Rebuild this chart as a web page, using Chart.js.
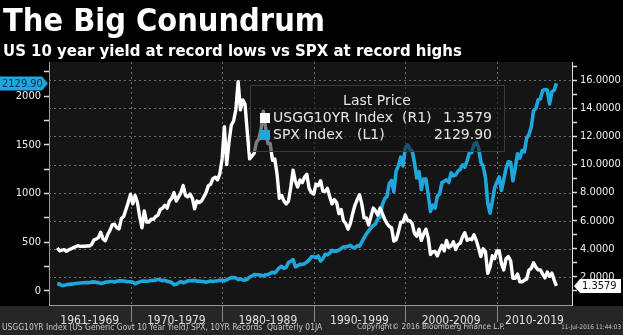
<!DOCTYPE html>
<html><head><meta charset="utf-8">
<script src="https://cdn.jsdelivr.net/npm/chart.js@4/dist/chart.umd.min.js"></script>
<style>
html,body{margin:0;padding:0;background:#000;width:623px;height:335px;overflow:hidden}
#wrap{position:relative;width:623px;height:335px}
canvas{position:absolute;left:0;top:0}
.t{position:absolute;color:#fff;white-space:nowrap;font-family:'DejaVu Sans Condensed','DejaVu Sans',sans-serif}
#title{left:3px;top:3px;font-size:30px;line-height:34px;font-weight:bold}
#sub{left:3px;top:41px;font-size:17px;line-height:20px;font-weight:bold}
.fn{position:absolute;top:322px;color:#c8c8c8;font-size:8px;line-height:10px;white-space:nowrap;font-family:'DejaVu Sans Condensed','DejaVu Sans',sans-serif}
</style></head>
<body><div id="wrap">
<canvas id="c" width="623" height="335"></canvas>
<div class="t" id="title">The Big Conundrum</div>
<div class="t" id="sub">US 10 year yield at record lows vs SPX at record highs</div>
<div class="fn" id="fn1" style="left:2px">USGG10YR Index (US Generic Govt 10 Year Yield) SPX, 10YR Records&nbsp; Quarterly 01JA</div>
<div class="fn" id="fn2" style="left:357px">Copyright© 2016 Bloomberg Finance L.P.</div>
<div class="fn" id="fn3" style="right:2px">11-Jul-2016 11:44:03</div>
</div>
<script>
// ---- data (quarterly, first point = end of 1961, last = 11-Jul-2016) ----
const firstYear = 1962.0;
const quarterStep = 0.25;

const yieldPct = [
 4.06,3.86,3.91,3.94, 3.82,3.93,4.00,4.08, 4.14,4.22,4.17,4.19, 4.18,4.20,4.20,4.30,
 4.62,4.70,4.80,5.18, 4.70,4.57,5.00,5.30, 5.70,5.75,5.50,5.42, 6.15,6.30,6.80,7.30,
 7.88,7.20,7.80,7.30, 6.30,5.50,6.70,5.90, 5.90,6.10,6.10,6.30, 6.40,6.80,6.90,7.10,
 6.90,7.40,7.60,8.00, 7.40,7.70,8.00,8.50, 7.80,7.70,7.90,7.60, 6.85,7.40,7.30,7.40,
 7.70,8.00,8.50,8.60, 9.00,9.10,8.90,9.35, 10.40,12.70,10.00,11.60, 12.80,13.10,13.90,15.90,
 13.90,14.60,14.30,12.30, 10.40,10.60,10.80,11.60, 11.80,12.50,13.80,12.60, 11.50,11.50,10.30,10.40,
 9.30,7.60,7.80,7.40, 7.20,7.40,8.40,9.60, 8.80,8.40,8.90,8.70, 9.10,9.30,8.30,8.00,
 7.90,8.60,8.50,8.85, 8.10,8.10,8.30,7.70, 7.20,7.50,7.30,6.50, 6.80,6.00,5.80,5.40,
 5.80,6.50,7.10,7.50, 7.85,7.20,6.20,6.20, 5.70,6.30,6.90,6.70, 6.40,6.90,6.50,6.10,
 5.80,5.60,5.50,4.55, 4.65,5.20,5.90,5.90, 6.40,6.00,6.00,5.80, 5.10,4.90,5.40,4.60,
 5.05,5.40,4.80,3.60, 3.80,3.80,3.50,3.90, 4.25,3.85,4.60,4.10, 4.20,4.50,3.95,4.30,
 4.40,4.85,5.15,4.60, 4.70,4.65,5.00,4.60, 4.05,3.45,4.00,3.80, 2.25,2.70,3.50,3.30,
 3.85,3.85,2.95,2.50, 3.30,3.45,3.15,1.90, 1.90,2.20,1.65,1.65, 1.76,1.85,2.50,2.60,
 3.00,2.70,2.50,2.50, 2.20,1.93,2.35,2.04, 2.27,1.77,1.3579
];

const spxIndex = [
 71.5,69.5,54.8,56.3, 63.1,66.6,69.4,71.7, 75.0,78.9,81.7,84.2, 84.8,86.2,84.1,90.0,
 92.4,89.2,84.7,77.0, 80.3,90.2,90.6,96.7, 96.5,90.2,99.6,102.7, 103.9,101.5,97.7,93.1,
 92.1,89.6,72.7,84.2, 92.2,100.3,99.7,98.3, 102.1,107.2,107.1,110.6, 118.1,111.5,104.3,108.4,
 97.6,94.0,86.0,63.5, 68.6,83.4,95.2,83.9, 90.2,102.8,104.3,105.2, 107.5,98.4,100.5,96.5,
 95.1,89.2,95.5,102.5, 96.1,101.6,102.9,109.3, 107.9,102.1,114.2,125.5, 135.8,136.0,131.2,116.2,
 122.6,112.0,109.6,120.4, 140.6,153.0,168.1,166.1, 164.9,159.2,153.2,166.1, 167.2,180.7,191.9,182.1,
 211.3,238.9,250.8,231.3, 242.2,291.7,304.0,321.8, 247.1,258.9,273.5,271.9, 277.7,294.9,318.0,349.2,
 353.4,339.9,358.0,306.1, 330.2,375.2,371.2,387.9, 417.1,403.7,408.1,417.8, 435.7,451.7,450.5,458.9,
 466.5,445.8,444.3,462.7, 459.3,500.7,544.8,584.4, 615.9,645.5,670.6,687.3, 740.7,757.1,885.1,947.3,
 970.4,1101.8,1133.8,1017.0, 1229.2,1286.4,1372.7,1282.7, 1469.3,1498.6,1454.6,1436.5, 1320.3,1160.3,1224.4,1040.9,
 1148.1,1147.4,989.8,815.3, 879.8,848.2,974.5,996.0, 1111.9,1126.2,1140.8,1114.6, 1211.9,1180.6,1191.3,1228.8,
 1248.3,1294.8,1270.2,1335.9, 1418.3,1420.9,1503.4,1526.8, 1468.4,1322.7,1280.0,1166.4, 903.3,797.9,919.3,1057.1,
 1115.1,1169.4,1030.7,1141.2, 1257.6,1325.8,1320.6,1131.4, 1257.6,1408.5,1362.2,1440.7, 1426.2,1569.2,1606.3,1681.6,
 1848.4,1872.3,1960.2,1972.3, 2058.9,2067.9,2063.1,1920.0, 2043.9,2059.7,2129.90
];

const decadeBounds = [1970, 1980, 1990, 2000, 2010];
const decadeLabels = ['1961-1969','1970-1979','1980-1989','1990-1999','2000-2009','2010-2019'];
const leftTicks = [0,250,500,750,1000,1250,1500,1750,2000,2250];
const leftLabelled = [0,500,1000,1500,2000];
const rightTicks = [1,2,3,4,5,6,7,8,9,10,11,12,13,14,15,16,17];
const rightLabelled = [2,4,6,8,10,12,14,16];
const lastYield = '1.3579';
const lastSpx = '2129.90';

// ---- build ----
const X_MIN = 1961.1, X_MAX = 2018.2;
const xs = yieldPct.map((_, i) => firstYear + i * quarterStep);
const yieldPts = yieldPct.map((v, i) => ({x: xs[i], y: v}));
const spxPts = spxIndex.map((v, i) => ({x: xs[i], y: v}));
const edges = [X_MIN, ...decadeBounds, X_MAX];
const labelCenters = decadeLabels.map((_, i) => (edges[i] + edges[i + 1]) / 2);

const FONT = "'DejaVu Sans Condensed','DejaVu Sans',sans-serif";
const LFONT = "'DejaVu Sans',sans-serif";
const BLUE = '#1fa6dc';

function line(ctx, x1, y1, x2, y2) { ctx.beginPath(); ctx.moveTo(x1, y1); ctx.lineTo(x2, y2); ctx.stroke(); }

const deco = {
  id: 'deco',
  beforeDraw(chart) {
    const {ctx, chartArea: a} = chart;
    ctx.save();
    ctx.fillStyle = '#000'; ctx.fillRect(0, 0, chart.width, chart.height);
    ctx.fillStyle = '#262626'; ctx.fillRect(0, a.bottom + 1, chart.width, chart.height - a.bottom - 1);
    ctx.fillStyle = '#151515'; ctx.fillRect(a.left, a.top, a.right - a.left, a.bottom - a.top);
    ctx.restore();
  },
  beforeDatasetsDraw(chart) {
    const {ctx, chartArea: a, scales} = chart;
    ctx.save();
    ctx.strokeStyle = '#6e6e6e'; ctx.lineWidth = 1; ctx.setLineDash([2, 3]);
    rightLabelled.forEach(v => { const y = Math.round(scales.yR.getPixelForValue(v)) + 0.5; line(ctx, a.left, y, a.right, y); });
    decadeBounds.forEach(v => { const x = Math.round(scales.x.getPixelForValue(v)) + 0.5; line(ctx, x, a.top, x, a.bottom); });
    ctx.setLineDash([]); ctx.strokeStyle = '#8c8c8c';
    decadeBounds.forEach(v => { const x = Math.round(scales.x.getPixelForValue(v)) + 0.5; line(ctx, x, a.bottom, x, a.bottom + 17); });
    ctx.restore();
  },
  afterDraw(chart) {
    const {ctx, scales} = chart;
    ctx.save();
    // legend box
    ctx.fillStyle = 'rgba(18,18,18,0.55)';
    ctx.fillRect(250, 85, 254, 66);
    ctx.strokeStyle = '#3a3a3a'; ctx.lineWidth = 1;
    ctx.strokeRect(250.5, 85.5, 254, 66);
    ctx.fillStyle = '#e6e6e6';
    ctx.font = '14px ' + LFONT; ctx.textBaseline = 'middle';
    ctx.textAlign = 'center'; ctx.fillText('Last Price', 377, 101);
    ctx.textAlign = 'left';
    ctx.fillStyle = '#fff'; ctx.fillRect(260, 113, 10, 10);
    ctx.fillStyle = BLUE; ctx.fillRect(260, 130, 10, 10);
    ctx.fillStyle = '#e6e6e6';
    ctx.fillText('USGG10YR Index', 273, 118);
    ctx.fillText('(R1)', 402, 118);
    ctx.fillText('SPX Index', 273, 135);
    ctx.fillText('(L1)', 357, 135);
    ctx.textAlign = 'right';
    ctx.fillText(lastYield, 492, 118);
    ctx.fillText(lastSpx, 492, 135);
    // left tag
    const yl = scales.yL.getPixelForValue(parseFloat(lastSpx));
    ctx.fillStyle = BLUE;
    ctx.beginPath(); ctx.moveTo(0, yl - 7); ctx.lineTo(42, yl - 7); ctx.lineTo(48, yl); ctx.lineTo(42, yl + 7); ctx.lineTo(0, yl + 7); ctx.closePath(); ctx.fill();
    ctx.fillStyle = '#06324a'; ctx.font = '11px ' + FONT; ctx.textAlign = 'left';
    ctx.fillText(lastSpx, 2, yl + 0.5);
    // right tag
    const yr = scales.yR.getPixelForValue(parseFloat(lastYield));
    ctx.fillStyle = '#fff';
    ctx.beginPath(); ctx.moveTo(574, yr); ctx.lineTo(580, yr - 7); ctx.lineTo(621, yr - 7); ctx.lineTo(621, yr + 7); ctx.lineTo(580, yr + 7); ctx.closePath(); ctx.fill();
    ctx.fillStyle = '#111'; ctx.textAlign = 'left';
    ctx.fillText(lastYield, 582, yr + 0.5);
    ctx.restore();
  }
};

new Chart(document.getElementById('c'), {
  type: 'line',
  data: {
    datasets: [
      {label: 'USGG10YR Index (R1)', data: yieldPts, yAxisID: 'yR', borderColor: '#ffffff', borderWidth: 3.4, pointRadius: 0, tension: 0, borderJoinStyle: 'round'},
      {label: 'SPX Index (L1)', data: spxPts, yAxisID: 'yL', borderColor: BLUE, borderWidth: 3.6, pointRadius: 0, tension: 0, borderJoinStyle: 'round'}
    ]
  },
  options: {
    responsive: false, animation: false, parsing: true,
    layout: {padding: {top: 62, left: 0, right: 0, bottom: 0}},
    plugins: {legend: {display: false}, tooltip: {enabled: false}, title: {display: false}},
    scales: {
      x: {
        type: 'linear', min: X_MIN, max: X_MAX,
        afterBuildTicks: s => { s.ticks = labelCenters.map(v => ({value: v})); },
        afterFit: s => { s.height = 30; },
        ticks: {autoSkip: false, maxRotation: 0, minRotation: 0, color: '#e2e2e2', padding: 1,
                font: {family: FONT, size: 12}, callback: (v, i) => decadeLabels[i]},
        grid: {display: false},
        border: {display: true, color: '#9a9a9a', width: 1}
      },
      yL: {
        type: 'linear', position: 'left', min: -145, max: 2350,
        afterBuildTicks: s => { s.ticks = leftTicks.map(v => ({value: v})); },
        afterFit: s => { s.width = 49; },
        ticks: {autoSkip: false, color: '#f0f0f0', padding: 3, font: {family: FONT, size: 11},
                callback: v => leftLabelled.includes(v) ? String(v) : ''},
        grid: {drawOnChartArea: false, drawTicks: true, tickLength: 5, tickColor: '#dcdcdc', tickWidth: 1.5},
        border: {display: true, color: '#9a9a9a', width: 1}
      },
      yR: {
        type: 'linear', position: 'right', min: 0, max: 17.3,
        afterBuildTicks: s => { s.ticks = rightTicks.map(v => ({value: v})); },
        afterFit: s => { s.width = 51; },
        ticks: {autoSkip: false, color: '#f0f0f0', padding: 3, font: {family: FONT, size: 11},
                callback: v => rightLabelled.includes(v) ? v.toFixed(4) : ''},
        grid: {drawOnChartArea: false, drawTicks: true, tickLength: 5, tickColor: '#dcdcdc', tickWidth: 1.5},
        border: {display: true, color: '#dcdcdc', width: 1}
      }
    }
  },
  plugins: [deco]
});

// fit header / footer text widths to the reference layout
function fitWidth(id, target) {
  const el = document.getElementById(id);
  const fs = parseFloat(getComputedStyle(el).fontSize);
  const w = el.getBoundingClientRect().width;
  if (w > 0) el.style.fontSize = (fs * target / w).toFixed(2) + 'px';
}
fitWidth('title', 322);
fitWidth('sub', 459);
fitWidth('fn1', 321);
fitWidth('fn2', 148);
fitWidth('fn3', 60);
</script>
</body></html>
